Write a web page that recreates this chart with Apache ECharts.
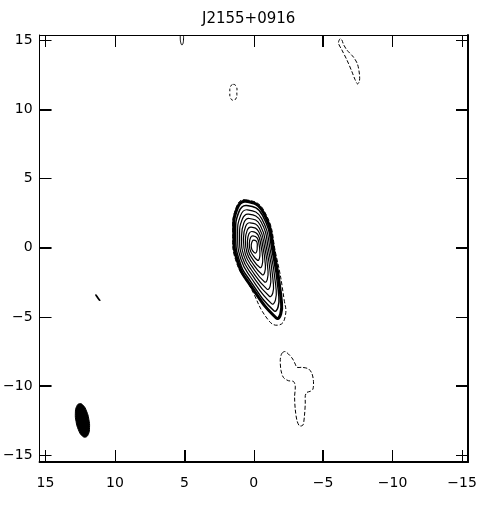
<!DOCTYPE html>
<html>
<head>
<meta charset="utf-8">
<script src="https://cdn.jsdelivr.net/npm/echarts@6/dist/echarts.min.js"></script>
<style>html,body{margin:0;padding:0;background:#fff;}#c{width:490px;height:505px;}</style>
</head>
<body>
<div id="c"></div>
<script>
// ---- tick labels (arcsec) ----
const xTickLabels = [15, 10, 5, 0, -5, -10, -15];
const yTickLabels = [15, 10, 5, 0, -5, -10, -15];
const xThinTicks = [15, 10, 0, -10, -15];
const xBoldTicksBottom = [5, -5];
const xBoldTicksTop = [-5];
const yThinTicks = [15, 5, -5, -15];
const yBoldTicks = [10, 0, -10];

// ---- main source contours [x(arcsec), y(arcsec)], innermost first ----
const ring0 = [[0.00,0.56],[-0.18,0.48],[-0.25,0.30],[-0.25,0.12],[-0.22,-0.24],[-0.11,-0.38],[0.11,-0.17],[0.16,-0.02],[0.18,0.20],[0.11,0.48]];
const ring1 = [[0.06,0.87],[-0.24,0.72],[-0.39,0.20],[-0.44,-0.31],[-0.41,-0.74],[-0.28,-0.91],[0.12,-0.45],[0.27,-0.13],[0.32,0.29],[0.23,0.75]];
const ring2 = [[0.13,1.18],[-0.29,0.95],[-0.53,0.10],[-0.64,-0.74],[-0.60,-1.25],[-0.44,-1.43],[0.14,-0.73],[0.38,-0.25],[0.46,0.39],[0.35,1.01]];
const ring3 = [[0.19,1.50],[-0.35,1.18],[-0.67,0.00],[-0.83,-1.18],[-0.79,-1.76],[-0.61,-1.95],[0.16,-1.01],[0.49,-0.36],[0.60,0.48],[0.47,1.28]];
const ring4 = [[0.26,1.81],[-0.40,1.42],[-0.81,-0.10],[-1.02,-1.61],[-0.98,-2.26],[-0.78,-2.47],[0.17,-1.29],[0.60,-0.47],[0.74,0.58],[0.59,1.54]];
const ring5 = [[0.32,2.12],[-0.46,1.65],[-0.95,-0.20],[-1.21,-2.05],[-1.18,-2.77],[-0.95,-2.99],[0.19,-1.57],[0.71,-0.58],[0.88,0.68],[0.71,1.81]];
const ring6 = [[0.38,2.44],[-0.52,1.88],[-1.09,-0.30],[-1.40,-2.48],[-1.37,-3.27],[-1.12,-3.51],[0.20,-1.85],[0.82,-0.70],[1.02,0.77],[0.83,2.07]];
const ring7 = [[0.45,2.75],[-0.57,2.11],[-1.23,-0.40],[-1.60,-2.91],[-1.56,-3.78],[-1.28,-4.04],[0.22,-2.13],[0.93,-0.81],[1.16,0.87],[0.95,2.34]];
const ring8 = [[0.51,3.06],[-0.63,2.35],[-1.37,-0.50],[-1.79,-3.35],[-1.75,-4.28],[-1.45,-4.56],[0.24,-2.41],[1.04,-0.92],[1.30,0.97],[1.07,2.60]];
const ring9 = [[0.58,3.37],[-0.68,2.58],[-1.51,-0.60],[-1.98,-3.78],[-1.94,-4.79],[-1.62,-5.08],[0.25,-2.70],[1.15,-1.03],[1.44,1.06],[1.19,2.87]];
const ringOuter = [[0.61,3.48],[-0.76,2.65],[-1.62,-0.60],[-2.19,-3.77],[-2.27,-4.93],[-1.83,-5.58],[-1.04,-5.22],[0.25,-2.84],[1.26,-1.03],[1.51,1.06],[1.26,2.93]];

// ---- isolated low-level contours ----
const blobSouth = [[-2.03,-7.63],[-2.27,-7.51],[-2.75,-7.97],[-2.99,-8.42],[-3.11,-8.65],[-3.47,-8.65],[-3.94,-8.76],[-4.19,-9.10],[-4.30,-9.67],[-4.26,-10.23],[-4.06,-10.39],[-3.83,-10.46],[-3.71,-10.69],[-3.71,-11.25],[-3.65,-12.15],[-3.54,-12.83],[-3.29,-12.88],[-3.11,-12.49],[-2.99,-11.71],[-2.94,-10.79],[-2.99,-10.01],[-2.86,-9.67],[-2.50,-9.62],[-2.14,-9.39],[-1.96,-8.87],[-1.91,-8.08]];
const blobNorthWest = [[-6.22,15.13],[-6.10,14.82],[-6.35,14.31],[-6.71,13.59],[-7.06,12.77],[-7.30,12.16],[-7.47,11.86],[-7.61,12.06],[-7.61,12.57],[-7.47,13.29],[-7.18,13.80],[-6.71,14.31],[-6.46,14.72],[-6.35,15.03]];
const blobNorth = [[1.47,11.83],[1.25,11.66],[1.22,11.25],[1.26,10.85],[1.47,10.67],[1.68,10.85],[1.72,11.25],[1.68,11.66]];
const blobEast = [[11.38,-3.40],[11.28,-3.52],[11.08,-3.80],[11.16,-3.74],[11.36,-3.46]];
const edgeNorth = [[5.29,15.40],[5.28,14.95],[5.18,14.68],[5.08,14.85],[5.06,15.40]];

// ---- restoring beam outline ----
const beam = [[12.55,-11.28],[12.76,-11.48],[12.85,-11.96],[12.80,-12.57],[12.63,-13.17],[12.39,-13.58],[12.13,-13.70],[11.92,-13.50],[11.83,-13.02],[11.88,-12.41],[12.05,-11.81],[12.29,-11.40]];

const contours = [
  {pts: ring0, w: 1.2, closed: true, smooth: 0.5},
  {pts: ring1, w: 1.2, closed: true, smooth: 0.5},
  {pts: ring2, w: 1.2, closed: true, smooth: 0.5},
  {pts: ring3, w: 1.2, closed: true, smooth: 0.5},
  {pts: ring4, w: 1.2, closed: true, smooth: 0.5},
  {pts: ring5, w: 1.2, closed: true, smooth: 0.5},
  {pts: ring6, w: 1.2, closed: true, smooth: 0.5},
  {pts: ring7, w: 1.2, closed: true, smooth: 0.5},
  {pts: ring8, w: 1.5, closed: true, smooth: 0.5},
  {pts: ring9, w: 3, closed: true, smooth: 0.5},
  {pts: ringOuter, w: 1, closed: true, smooth: 0.5, dash: [4, 2]},
  {pts: blobSouth, w: 1, closed: true, smooth: 0.3, dash: [4, 2]},
  {pts: blobNorthWest, w: 1, closed: true, smooth: 0.3, dash: [4, 2]},
  {pts: blobNorth, w: 1, closed: true, smooth: 0.5, dash: [3, 2]},
  {pts: blobEast, w: 1.3, closed: true, smooth: 0.4},
  {pts: edgeNorth, w: 1, closed: false, smooth: 0.4},
  {pts: beam, w: 1, closed: true, smooth: 0.5, fill: '#000'}
];

const XMIN = -15.43, XMAX = 15.43, YMIN = -15.5, YMAX = 15.4;
const fmt = v => (v < 0 ? '\u2212' + Math.abs(v) : String(v));
const FONT = 'DejaVu Sans';

function xAx(pos, ticks, tickW, lineW, labels) {
  return {
    type: 'value', position: pos, min: XMIN, max: XMAX, inverse: true,
    axisLine: {show: lineW > 0, onZero: false, lineStyle: {color: '#000', width: lineW}},
    axisTick: {show: true, inside: true, length: 12, customValues: ticks, lineStyle: {color: '#000', width: tickW}},
    axisLabel: labels ? {show: true, customValues: xTickLabels, formatter: fmt, color: '#000', fontSize: 14, fontFamily: FONT, margin: 14} : {show: false},
    splitLine: {show: false}
  };
}
function yAx(pos, ticks, tickW, lineW, labels) {
  return {
    type: 'value', position: pos, min: YMIN, max: YMAX,
    axisLine: {show: lineW > 0, onZero: false, lineStyle: {color: '#000', width: lineW}},
    axisTick: {show: true, inside: true, length: 12, customValues: ticks, lineStyle: {color: '#000', width: tickW}},
    axisLabel: labels ? {show: true, customValues: yTickLabels, formatter: fmt, color: '#000', fontSize: 14, fontFamily: FONT, margin: 7} : {show: false},
    splitLine: {show: false}
  };
}

const chart = echarts.init(document.getElementById('c'), null, {renderer: 'canvas'});
chart.setOption({
  animation: false,
  backgroundColor: '#fff',
  title: {text: 'J2155+0916', left: 197, top: 7, textStyle: {fontFamily: FONT, fontSize: 15, fontWeight: 'normal', color: '#000'}},
  grid: {left: 39, right: 22, top: 35, bottom: 43, containLabel: false},
  xAxis: [
    xAx('bottom', xThinTicks, 1, 2, true),
    xAx('top', xThinTicks, 1, 1, false),
    xAx('bottom', xBoldTicksBottom, 2, 0, false),
    xAx('top', xBoldTicksTop, 2, 0, false)
  ],
  yAxis: [
    yAx('left', yThinTicks, 1, 1, true),
    yAx('right', yThinTicks, 1, 2, false),
    yAx('left', yBoldTicks, 2, 0, false),
    yAx('right', yBoldTicks, 2, 0, false)
  ],
  series: [{
    type: 'custom',
    coordinateSystem: 'cartesian2d',
    xAxisIndex: 0, yAxisIndex: 0,
    silent: true,
    clip: true,
    encode: {x: 0, y: 1},
    data: contours.map((c, i) => [c.pts[0][0], c.pts[0][1], i]),
    renderItem: function (params, api) {
      const c = contours[api.value(2)];
      const pts = c.pts.map(p => api.coord(p));
      return {
        type: c.closed ? 'polygon' : 'polyline',
        shape: {points: pts, smooth: c.smooth},
        style: {fill: c.fill || 'none', stroke: '#000', lineWidth: c.w, lineDash: c.dash || null}
      };
    }
  }]
});
</script>
</body>
</html>
